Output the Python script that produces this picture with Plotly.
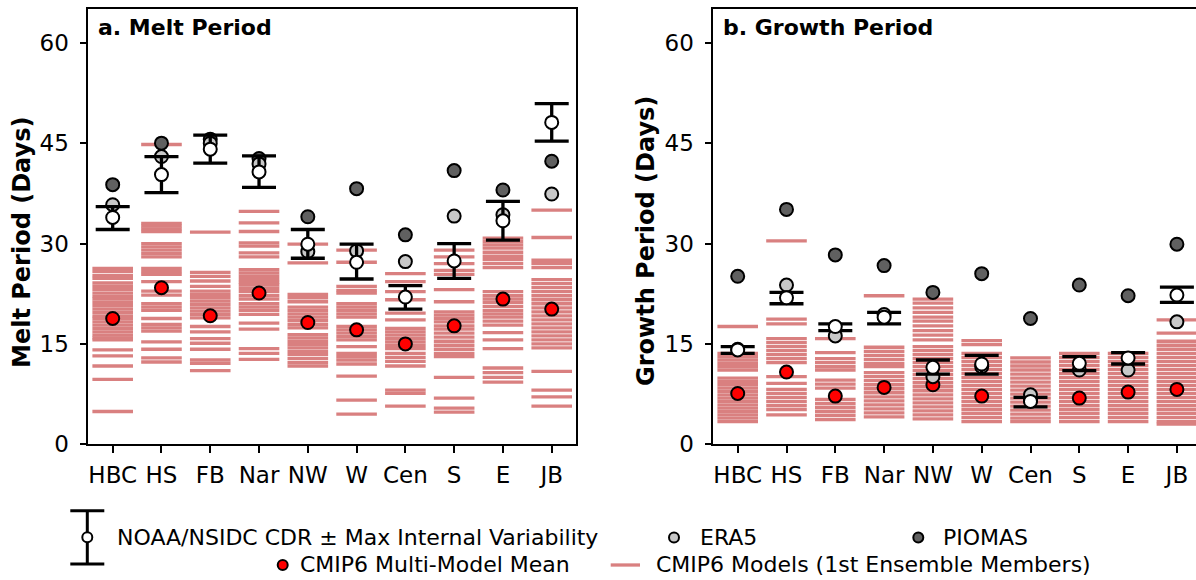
import plotly.graph_objects as go

# ---------------- data ----------------
regions = ["HBC", "HS", "FB", "Nar", "NW", "W", "Cen", "S", "E", "JB"]

melt_cdr = [33.9, 40.3, 44.1, 40.7, 29.9, 27.2, 22.0, 27.4, 33.4, 48.1]
melt_cdr_hi = [35.5, 43.0, 46.2, 43.1, 32.1, 29.9, 23.7, 30.0, 36.3, 50.9]
melt_cdr_lo = [32.1, 37.6, 42.0, 38.4, 27.8, 24.7, 20.2, 24.8, 30.5, 45.3]
melt_era5 = [35.8, 43.0, 45.0, 41.9, 28.8, 28.9, 27.3, 34.1, 34.3, 37.4]
melt_piomas = [38.8, 45.0, 45.6, 42.7, 34.0, 38.2, 31.3, 40.9, 38.0, 42.3]
melt_mmm = [18.8, 23.4, 19.2, 22.6, 18.2, 17.1, 15.0, 17.7, 21.7, 20.2]

melt_models = [
    [26.3, 25.8, 25.2, 24.8, 24.1, 23.6, 23.1, 22.6, 22.1, 21.7, 21.2, 20.7, 20.2, 19.7, 19.2, 18.8, 18.3, 17.8, 17.3, 16.8, 16.3, 15.9, 15.6, 14.1, 13.2, 11.7, 9.7, 4.9],
    [44.8, 33.0, 32.6, 32.2, 31.8, 30.0, 29.5, 29.0, 28.5, 28.0, 26.3, 25.8, 25.4, 24.3, 22.9, 22.3, 21.0, 20.5, 20.0, 18.8, 17.9, 17.4, 16.9, 15.3, 14.2, 12.9, 12.3],
    [31.7, 25.7, 25.1, 24.4, 23.6, 22.9, 22.4, 21.9, 21.4, 20.9, 20.4, 19.9, 19.4, 18.9, 17.6, 16.8, 15.8, 15.1, 14.2, 12.6, 12.1, 11.0],
    [34.8, 33.1, 31.8, 30.1, 29.6, 28.6, 28.0, 26.1, 25.6, 25.1, 24.6, 24.2, 23.8, 23.3, 22.8, 22.2, 21.7, 21.0, 20.5, 20.0, 19.4, 18.1, 17.2, 14.3, 13.6, 12.7],
    [29.9, 27.1, 22.4, 21.9, 21.3, 20.5, 20.0, 19.5, 19.0, 18.5, 17.9, 17.4, 16.4, 15.9, 15.4, 14.9, 14.4, 13.9, 13.4, 12.8, 12.2, 11.7],
    [29.0, 27.2, 23.6, 23.0, 22.6, 21.0, 20.5, 20.0, 19.5, 19.0, 17.6, 17.1, 16.6, 16.1, 15.6, 14.6, 13.6, 13.1, 12.6, 12.0, 10.2, 6.6, 4.5],
    [25.5, 24.3, 22.8, 21.6, 19.6, 18.6, 17.3, 16.8, 16.3, 15.8, 15.3, 14.8, 14.3, 13.6, 13.0, 12.4, 11.7, 8.1, 7.6, 5.7],
    [29.0, 28.0, 27.0, 26.0, 25.4, 23.1, 21.3, 19.8, 19.3, 18.8, 18.3, 17.7, 17.2, 16.6, 16.0, 15.4, 14.8, 14.2, 13.6, 13.1, 10.0, 6.9, 5.4, 4.8],
    [30.8, 30.3, 29.8, 29.3, 28.7, 28.1, 27.6, 27.0, 26.4, 22.8, 22.2, 21.7, 21.2, 20.6, 20.0, 19.5, 19.0, 18.4, 17.8, 16.7, 15.6, 14.3, 11.4, 10.7, 10.0, 9.3],
    [35.0, 30.9, 27.5, 27.0, 26.4, 24.6, 24.0, 23.4, 22.8, 22.2, 21.6, 21.0, 20.4, 19.8, 19.2, 18.6, 18.0, 17.4, 16.8, 16.2, 15.6, 15.0, 14.4, 10.9, 8.1, 7.1, 5.7],
]

growth_cdr = [14.1, 21.9, 17.6, 19.0, 11.5, 12.0, 6.4, 12.1, 12.9, 22.3]
growth_cdr_hi = [14.6, 22.7, 18.0, 19.7, 12.6, 13.3, 7.0, 13.1, 13.7, 23.5]
growth_cdr_lo = [13.6, 21.0, 17.0, 18.0, 10.5, 10.5, 5.6, 11.0, 12.0, 21.2]
growth_era5 = [14.2, 23.8, 16.2, 19.4, 10.1, 11.6, 7.4, 11.1, 11.1, 18.3]
growth_piomas = [25.1, 35.1, 28.3, 26.7, 22.7, 25.5, 18.8, 23.8, 22.2, 29.9]
growth_mmm = [7.6, 10.8, 7.2, 8.5, 8.9, 7.2, 6.6, 6.9, 7.8, 8.2]

growth_models = [
    [17.6, 13.6, 13.1, 12.6, 12.1, 11.6, 11.1, 9.9, 9.4, 8.9, 8.4, 7.9, 7.4, 6.9, 6.4, 5.9, 5.4, 4.9, 4.4, 3.9, 3.4],
    [30.4, 18.7, 18.0, 15.8, 15.2, 14.6, 14.0, 13.4, 12.8, 12.2, 10.1, 9.1, 8.2, 7.6, 7.0, 6.4, 5.8, 5.2, 4.4],
    [15.8, 13.7, 12.8, 12.2, 11.6, 11.1, 9.6, 9.0, 8.4, 6.7, 6.1, 5.5, 4.9, 4.3, 3.7],
    [22.2, 14.5, 13.9, 13.3, 12.7, 12.1, 11.6, 10.7, 10.1, 9.5, 8.9, 8.3, 7.7, 7.1, 6.5, 5.9, 5.3, 4.7, 4.1],
    [21.7, 21.1, 20.4, 19.7, 19.0, 18.4, 17.7, 17.0, 16.3, 15.6, 14.6, 14.0, 13.4, 12.8, 12.2, 11.6, 11.0, 10.4, 9.8, 9.2, 8.6, 8.0, 7.4, 6.8, 6.2, 5.6, 5.0, 4.4, 3.8],
    [15.5, 14.9, 13.6, 13.0, 12.4, 11.8, 11.2, 10.6, 10.0, 9.4, 8.8, 8.2, 7.6, 7.0, 6.4, 5.8, 5.2, 4.6, 4.0, 3.4],
    [12.9, 12.3, 11.7, 11.1, 10.5, 9.9, 9.3, 8.7, 8.1, 7.5, 6.9, 6.3, 5.7, 5.1, 4.5, 3.9, 3.4],
    [13.6, 13.0, 12.4, 11.8, 11.2, 10.6, 10.0, 9.4, 8.8, 8.2, 7.6, 7.0, 6.4, 5.8, 5.2, 4.6, 4.0, 3.4],
    [13.6, 13.0, 12.4, 11.8, 11.2, 10.6, 10.0, 9.4, 8.8, 8.2, 7.6, 7.0, 6.4, 5.8, 5.2, 4.6, 4.0, 3.4],
    [18.6, 16.6, 15.4, 14.8, 14.2, 13.6, 13.0, 12.4, 11.8, 11.2, 10.6, 10.0, 9.4, 8.8, 8.2, 7.6, 7.0, 6.4, 5.8, 5.2, 4.6, 4.0, 3.4, 3.0],
]

yticks = [0, 15, 30, 45, 60]

# ---------------- style ----------------
W, H = 1196, 580
FONT = "DejaVu Sans"
PINK = "#D98080"
ERA5_C = "#C8C8C8"
PIOMAS_C = "#606060"
RED = "#FF0000"


def px(x):
    return x / W


def py(y):
    return 1 - y / H


fig = go.Figure()


def add_panel(xa, ya, cdr, hi, lo, era5, piomas, mmm, models):
    idx = list(range(len(regions)))
    mx, my = [], []
    for i, vals in enumerate(models):
        for v in vals:
            mx.append(i)
            my.append(v)
    fig.add_trace(go.Scatter(
        x=mx, y=my, mode="markers", xaxis=xa, yaxis=ya, showlegend=False,
        marker=dict(symbol="line-ew", size=29, color=PINK,
                    line=dict(color=PINK, width=3.3)),
        hoverinfo="skip"))
    fig.add_trace(go.Scatter(
        x=idx, y=mmm, mode="markers", xaxis=xa, yaxis=ya, showlegend=False,
        marker=dict(symbol="circle", size=13, color=RED,
                    line=dict(color="black", width=2))))
    fig.add_trace(go.Scatter(
        x=idx, y=piomas, mode="markers", xaxis=xa, yaxis=ya, showlegend=False,
        marker=dict(symbol="circle", size=13, color=PIOMAS_C,
                    line=dict(color="black", width=2))))
    fig.add_trace(go.Scatter(
        x=idx, y=era5, mode="markers", xaxis=xa, yaxis=ya, showlegend=False,
        marker=dict(symbol="circle", size=13, color=ERA5_C,
                    line=dict(color="black", width=2))))
    fig.add_trace(go.Scatter(
        x=idx, y=cdr, mode="markers", xaxis=xa, yaxis=ya, showlegend=False,
        error_y=dict(type="data", symmetric=False,
                     array=[h - c for h, c in zip(hi, cdr)],
                     arrayminus=[c - l for c, l in zip(cdr, lo)],
                     color="black", thickness=3.3, width=17),
        marker=dict(symbol="circle", size=13, color="white",
                    line=dict(color="black", width=2))))


add_panel("x", "y", melt_cdr, melt_cdr_hi, melt_cdr_lo, melt_era5,
          melt_piomas, melt_mmm, melt_models)
add_panel("x2", "y2", growth_cdr, growth_cdr_hi, growth_cdr_lo, growth_era5,
          growth_piomas, growth_mmm, growth_models)

ax_common = dict(showgrid=False, zeroline=False, showline=True, linecolor="black",
                 linewidth=1.6, ticks="outside", ticklen=7, tickwidth=1.6,
                 tickcolor="black", automargin=False,
                 tickfont=dict(family=FONT, size=23, color="black"))

y_dom = [py(444.3), py(9.3)]
xa_dom = [px(88.3), px(576.1)]
xb_dom = [px(713.3), 1.0]
xb_end = -0.5 + (W - 713.3) / 48.8

fig.update_layout(
    width=W, height=H, autosize=False, margin=dict(l=0, r=0, t=0, b=0, pad=0),
    plot_bgcolor="white", paper_bgcolor="white", showlegend=False,
    font=dict(family=FONT, color="black"),
    xaxis=dict(domain=xa_dom, range=[-0.5, 9.5], tickvals=list(range(10)),
               ticktext=regions, mirror=True, anchor="y", ticklabelstandoff=2, **ax_common),
    yaxis=dict(domain=y_dom, range=[0, 65], tickvals=yticks, mirror=True,
               anchor="x", ticklabelstandoff=6, **ax_common),
    xaxis2=dict(domain=xb_dom, range=[-0.5, xb_end], tickvals=list(range(10)),
                ticktext=regions, mirror=True, anchor="y2", ticklabelstandoff=2, **ax_common),
    yaxis2=dict(domain=y_dom, range=[0, 65], tickvals=yticks, mirror=False,
                anchor="x2", ticklabelstandoff=6, **ax_common),
)

annotations = [
    dict(x=px(96), y=py(27), text="<b>a. Melt Period</b>", xanchor="left", yanchor="middle",
         font=dict(size=22)),
    dict(x=px(721), y=py(27), text="<b>b. Growth Period</b>", xanchor="left", yanchor="middle",
         font=dict(size=22)),
    dict(x=px(22), y=py(243), text="<b>Melt Period (Days)</b>", textangle=-90,
         xanchor="center", yanchor="middle", font=dict(size=24)),
    dict(x=px(646), y=py(241), text="<b>Growth Period (Days)</b>", textangle=-90,
         xanchor="center", yanchor="middle", font=dict(size=24)),
    # legend texts
    dict(x=px(115), y=py(537), text="NOAA/NSIDC CDR ± Max Internal Variability",
         xanchor="left", yanchor="middle", font=dict(size=22)),
    dict(x=px(698), y=py(537), text="ERA5", xanchor="left", yanchor="middle",
         font=dict(size=22)),
    dict(x=px(941), y=py(537), text="PIOMAS", xanchor="left", yanchor="middle",
         font=dict(size=22)),
    dict(x=px(298), y=py(564), text="CMIP6 Multi-Model Mean", xanchor="left",
         yanchor="middle", font=dict(size=22)),
    dict(x=px(654), y=py(564), text="CMIP6 Models (1st Ensemble Members)",
         xanchor="left", yanchor="middle", font=dict(size=22)),
]
for a in annotations:
    a.update(xref="paper", yref="paper", showarrow=False)
fig.update_layout(annotations=annotations)


def circ(cx, cy, r, fill):
    return dict(type="circle", xref="paper", yref="paper",
                x0=px(cx - r), x1=px(cx + r), y0=py(cy + r), y1=py(cy - r),
                fillcolor=fill, line=dict(color="black", width=2))


def seg(x0, y0, x1, y1, color="black", w=3):
    return dict(type="line", xref="paper", yref="paper",
                x0=px(x0), x1=px(x1), y0=py(y0), y1=py(y1),
                line=dict(color=color, width=w))


shapes = [
    seg(87.3, 510.7, 87.3, 564),
    seg(70.3, 510.7, 104.3, 510.7),
    seg(70.3, 564, 104.3, 564),
    circ(87.3, 537.3, 5, "white"),
    circ(674, 537.5, 5, ERA5_C),
    circ(918.3, 537.5, 5, PIOMAS_C),
    circ(282.7, 565, 5, RED),
    seg(610.7, 565, 640, 565, PINK, 3.3),
]
fig.update_layout(shapes=shapes)

fig.write_html("out.html", config={"responsive": False})
